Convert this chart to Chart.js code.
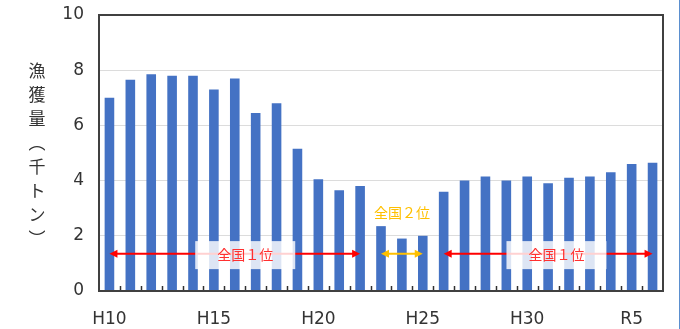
<!DOCTYPE html>
<html>
<head>
<meta charset="utf-8">
<script src="https://cdn.jsdelivr.net/npm/chart.js@4"></script>
<style>
  html, body { margin: 0; padding: 0; background: #fff; }
  #wrap { width: 679px; height: 329px; border-right: 1px solid #5b8fcf; }
</style>
</head>
<body>
<div id="wrap"><canvas id="chart" width="679" height="329"></canvas></div>
<script>
"use strict"

// years (Heisei 10 .. Reiwa 6)
const years = ["H10", "H11", "H12", "H13", "H14", "H15", "H16", "H17", "H18", "H19",
    "H20", "H21", "H22", "H23", "H24", "H25", "H26", "H27", "H28", "H29",
    "H30", "R1", "R2", "R3", "R4", "R5", "R6"]
// catch in thousand tonnes
const catchValues = [7.0, 7.65, 7.85, 7.8, 7.8, 7.3, 7.7, 6.45, 6.8, 5.15,
    4.05, 3.65, 3.8, 2.35, 1.9, 2.0, 3.6, 4.0, 4.15, 4.0,
    4.15, 3.9, 4.1, 4.15, 4.3, 4.6, 4.65]
const shownYears = ["H10", "H15", "H20", "H25", "H30", "R5"]
const yMin = 0, yMax = 10, yStep = 2
const yTitle = ["漁", "獲", "量", "︵", "千", "ト", "ン", "︶"]

// national ranking periods (category index from..to)
const rankFrom = [0, 13, 16]
const rankTo = [12, 15, 26]
const rankText = ["全国１位", "全国２位", "全国１位"]
const rankValue = 1.35
const rankTextAt = [6.5, 14, 21.4]
const rankTextValue = [1.3, 2.85, 1.3]
const rankBoxed = [true, false, true]
const rankColor = ["#ff0000", "#ffc000", "#ff0000"]

const cjk = "'Noto Sans CJK JP', 'DejaVu Sans', sans-serif"

// draw arrow line with heads on both ends
const drawArrow = (ctx, x1, x2, y, color) => {
    ctx.save()
    ctx.strokeStyle = color
    ctx.fillStyle = color
    ctx.lineWidth = 2
    ctx.beginPath()
    ctx.moveTo(x1 + 4, y)
    ctx.lineTo(x2 - 4, y)
    ctx.stroke()
    for (const [x, d] of [[x1, 1], [x2, -1]]) {
        ctx.beginPath()
        ctx.moveTo(x, y)
        ctx.lineTo(x + d * 8, y - 4)
        ctx.lineTo(x + d * 8, y + 4)
        ctx.closePath()
        ctx.fill()
    }
    ctx.restore()
}

const extras = {
    id: "extras",
    afterDatasetsDraw: (chart) => {
        const ctx = chart.ctx
        const xs = chart.scales.x
        const ys = chart.scales.y
        const area = chart.chartArea

        // ranking arrows + labels
        for (let i = 0; i < rankFrom.length; i++) {
            const y = ys.getPixelForValue(rankValue)
            drawArrow(ctx, xs.getPixelForValue(rankFrom[i]), xs.getPixelForValue(rankTo[i]), y, rankColor[i])
        }
        ctx.save()
        ctx.font = "14px " + cjk
        ctx.textAlign = "center"
        ctx.textBaseline = "middle"
        for (let i = 0; i < rankText.length; i++) {
            const step = xs.getPixelForValue(1) - xs.getPixelForValue(0)
            const cx = xs.getPixelForValue(0) + rankTextAt[i] * step
            const cy = ys.getPixelForValue(rankTextValue[i])
            const w = ctx.measureText(rankText[i]).width
            if (rankBoxed[i]) {
                ctx.fillStyle = "rgba(255,255,255,0.82)"
                ctx.fillRect(cx - w / 2 - 22, cy - 14, w + 44, 28)
            }
            ctx.fillStyle = rankBoxed[i] ? "#ff3030" : "#ffc000"
            ctx.fillText(rankText[i], cx, cy)
        }
        ctx.restore()

        // small inward ticks between categories
        ctx.save()
        ctx.strokeStyle = "#303030"
        ctx.lineWidth = 1.5
        for (let i = 1; i < years.length; i++) {
            const x = Math.round((xs.getPixelForValue(i - 1) + xs.getPixelForValue(i)) / 2) + 0.5
            ctx.beginPath()
            ctx.moveTo(x, area.bottom)
            ctx.lineTo(x, area.bottom - 5)
            ctx.stroke()
        }
        // plot frame
        ctx.strokeStyle = "#404040"
        ctx.lineWidth = 2
        ctx.strokeRect(area.left, area.top, area.right - area.left, area.bottom - area.top)
        ctx.restore()

        // vertical y axis title
        ctx.save()
        ctx.font = "17px " + cjk
        ctx.fillStyle = "#333"
        ctx.textAlign = "center"
        ctx.textBaseline = "middle"
        const gap = 24
        const mid = (area.top + area.bottom) / 2 + 2
        const start = mid - gap * (yTitle.length - 1) / 2
        yTitle.forEach((ch, k) => ctx.fillText(ch, 37, start + k * gap))
        ctx.restore()
    }
}

const ctx = document.getElementById("chart").getContext("2d")
const myChart = new Chart(ctx, {
    type: "bar",
    data: {
        labels: years,
        datasets: [{
            label: "漁獲量",
            data: catchValues,
            backgroundColor: "#4472c4",
            barPercentage: 0.46,
            categoryPercentage: 1
        }]
    },
    options: {
        responsive: false,
        animation: false,
        layout: { padding: { top: 15, right: 16, left: 0, bottom: 0 } },
        plugins: {
            legend: { display: false },
            tooltip: { enabled: false }
        },
        scales: {
            x: {
                grid: { display: false },
                border: { display: false },
                ticks: {
                    autoSkip: false,
                    maxRotation: 0,
                    padding: 10,
                    color: "#333",
                    font: { family: "'DejaVu Sans', sans-serif", size: 17 },
                    callback: function (value) {
                        const lab = this.getLabelForValue(value)
                        return shownYears.includes(lab) ? lab : ""
                    }
                },
                afterFit: (scale) => {
                    scale.height = 38
                    scale.paddingLeft = 0
                    scale.paddingRight = 0
                }
            },
            y: {
                min: yMin,
                max: yMax,
                ticks: {
                    stepSize: yStep,
                    padding: 15,
                    color: "#333",
                    font: { family: "'DejaVu Sans', sans-serif", size: 17 }
                },
                grid: { color: "#dcdcdc", drawTicks: false },
                border: { display: false },
                afterFit: (scale) => {
                    scale.width = 99
                    scale.paddingTop = 0
                    scale.paddingBottom = 0
                }
            }
        }
    },
    plugins: [extras]
})
</script>
</body>
</html>
